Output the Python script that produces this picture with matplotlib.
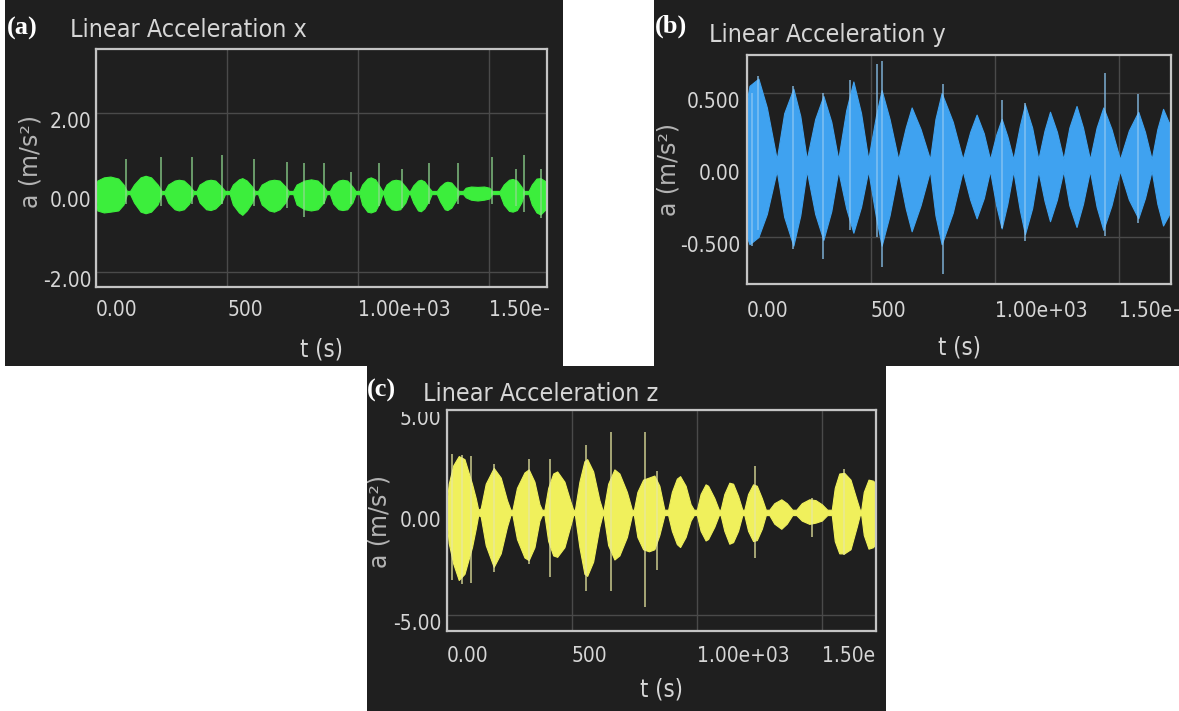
import matplotlib
matplotlib.use("Agg")
import matplotlib.pyplot as plt
from matplotlib.patches import Rectangle
from matplotlib.transforms import ScaledTranslation, Bbox, TransformedBbox

# ---------------- data ----------------
# panel (a): linear acceleration x  (envelope of the green trace, m/s^2)
a_t = [0, 5, 30, 55, 85, 105, 118,
       130, 145, 170, 189, 210, 235, 250,
       262, 275, 300, 316, 335, 355, 372,
       384, 395, 420, 437, 455, 478, 492,
       510, 522, 545, 558, 575, 595, 606,
       618, 632, 660, 679, 700, 722, 735,
       752, 765, 795, 820, 845, 868, 880,
       892, 905, 925, 940, 958, 978, 990,
       1005, 1015, 1035, 1048, 1065, 1082, 1092,
       1096, 1108, 1128, 1143, 1160, 1180, 1192,
       1198, 1210, 1228, 1239, 1252, 1270, 1280,
       1300, 1312, 1330, 1340, 1355, 1372, 1384,
       1400, 1410, 1430, 1455, 1480, 1500, 1510,
       1540, 1555, 1575, 1589, 1605, 1622, 1632,
       1650, 1662, 1680, 1695, 1710, 1720]
a_hi = [0.10, 0.30, 0.38, 0.40, 0.35, 0.20, 0.04,
        0.04, 0.20, 0.38, 0.42, 0.38, 0.20, 0.04,
        0.04, 0.20, 0.30, 0.32, 0.30, 0.18, 0.04,
        0.04, 0.20, 0.30, 0.32, 0.30, 0.15, 0.04,
        0.04, 0.20, 0.33, 0.36, 0.30, 0.15, 0.04,
        0.04, 0.20, 0.30, 0.32, 0.30, 0.15, 0.04,
        0.04, 0.20, 0.30, 0.33, 0.30, 0.15, 0.04,
        0.04, 0.20, 0.30, 0.32, 0.30, 0.15, 0.04,
        0.04, 0.20, 0.35, 0.38, 0.33, 0.15, 0.04,
        0.04, 0.20, 0.30, 0.32, 0.30, 0.15, 0.04,
        0.04, 0.18, 0.30, 0.32, 0.28, 0.12, 0.04,
        0.04, 0.15, 0.25, 0.27, 0.25, 0.12, 0.04,
        0.04, 0.12, 0.15, 0.14, 0.15, 0.12, 0.04,
        0.04, 0.20, 0.32, 0.34, 0.30, 0.15, 0.04,
        0.04, 0.20, 0.35, 0.36, 0.30, 0.25]
a_lo = [-0.10, -0.45, -0.50, -0.48, -0.45, -0.30, -0.04,
        -0.04, -0.25, -0.48, -0.52, -0.48, -0.30, -0.04,
        -0.04, -0.25, -0.42, -0.45, -0.42, -0.28, -0.04,
        -0.04, -0.25, -0.42, -0.44, -0.40, -0.25, -0.04,
        -0.04, -0.30, -0.50, -0.56, -0.45, -0.25, -0.04,
        -0.04, -0.30, -0.45, -0.48, -0.42, -0.25, -0.04,
        -0.04, -0.30, -0.42, -0.45, -0.42, -0.25, -0.04,
        -0.04, -0.28, -0.42, -0.44, -0.42, -0.25, -0.04,
        -0.04, -0.30, -0.48, -0.50, -0.46, -0.25, -0.04,
        -0.04, -0.28, -0.42, -0.44, -0.42, -0.25, -0.04,
        -0.04, -0.25, -0.45, -0.47, -0.40, -0.20, -0.04,
        -0.04, -0.22, -0.42, -0.44, -0.38, -0.20, -0.04,
        -0.04, -0.12, -0.18, -0.20, -0.18, -0.15, -0.04,
        -0.04, -0.30, -0.46, -0.48, -0.44, -0.25, -0.04,
        -0.04, -0.30, -0.50, -0.55, -0.45, -0.40]
a_spk_t = [113, 246, 367, 481, 602, 730, 794, 870, 971, 1079, 1168, 1270, 1379, 1512, 1601, 1633, 1697]
a_spk_hi = [0.85, 0.89, 0.89, 0.94, 0.85, 0.77, 0.73, 0.73, 0.52, 0.73, 0.60, 0.73, 0.73, 0.89, 0.60, 0.94, 0.60]
a_spk_lo = [-0.30, -0.35, -0.30, -0.30, -0.35, -0.40, -0.62, -0.30, -0.30, -0.35, -0.40, -0.30, -0.30, -0.30, -0.35, -0.50, -0.65]

# panel (b): linear acceleration y (envelope of the blue trace, m/s^2)
b_t = [0, 10, 46, 80, 120, 150, 187, 215, 241, 275, 308, 340, 368, 400, 429, 460,
       489, 520, 543, 575, 610, 640, 664, 700, 738, 760, 785, 830, 870, 900, 926, 955,
       980, 1005, 1027, 1050, 1074, 1100, 1121, 1150, 1175, 1200, 1222, 1250, 1276, 1300,
       1329, 1355, 1383, 1410, 1437, 1470, 1504, 1540, 1578, 1605, 1632, 1655, 1678, 1700, 1710]
b_hi = [0.45, 0.55, 0.60, 0.40, 0.04, 0.36, 0.53, 0.34, 0.04, 0.32, 0.48, 0.30, 0.04, 0.38, 0.58, 0.36,
        0.04, 0.34, 0.52, 0.32, 0.04, 0.26, 0.40, 0.25, 0.04, 0.32, 0.50, 0.30, 0.04, 0.23, 0.35, 0.22,
        0.04, 0.21, 0.32, 0.20, 0.04, 0.27, 0.42, 0.26, 0.04, 0.24, 0.37, 0.23, 0.04, 0.26,
        0.41, 0.26, 0.04, 0.26, 0.40, 0.25, 0.04, 0.24, 0.37, 0.23, 0.04, 0.25, 0.39, 0.30, 0.28]
b_lo = [-0.50, -0.55, -0.50, -0.34, -0.04, -0.36, -0.56, -0.35, -0.04, -0.34, -0.52, -0.32, -0.04, -0.30, -0.47, -0.29,
        -0.04, -0.36, -0.56, -0.35, -0.04, -0.30, -0.46, -0.28, -0.04, -0.35, -0.55, -0.33, -0.04, -0.24, -0.37, -0.23,
        -0.04, -0.28, -0.44, -0.27, -0.04, -0.31, -0.48, -0.30, -0.04, -0.25, -0.39, -0.24, -0.04, -0.28,
        -0.43, -0.27, -0.04, -0.29, -0.45, -0.28, -0.04, -0.24, -0.37, -0.23, -0.04, -0.27, -0.42, -0.35, -0.30]
b_spk_t = [20, 46, 187, 308, 415, 524, 543, 790, 1027, 1121, 1444, 1578]
b_spk_hi = [0.50, 0.62, 0.55, 0.50, 0.59, 0.70, 0.72, 0.56, 0.45, 0.43, 0.64, 0.49]
b_spk_lo = [-0.56, -0.45, -0.58, -0.65, -0.45, -0.50, -0.71, -0.76, -0.44, -0.53, -0.49, -0.40]

# panel (c): linear acceleration z (envelope of the yellow trace, m/s^2)
c_t = [0, 7, 25, 47, 70, 100, 115, 125,
       135, 155, 187, 215, 240, 254,
       262, 280, 310, 327, 350, 370, 380,
       390, 405, 425, 441, 470, 495, 505,
       512, 530, 550, 561, 585, 610, 622,
       627, 645, 670, 690, 720, 740,
       748, 762, 785, 808, 830, 850, 870,
       885, 900, 920, 933, 955, 975, 988,
       1000, 1015, 1035, 1045, 1070, 1088,
       1095, 1110, 1130, 1145, 1165, 1182,
       1190, 1205, 1225, 1240, 1260, 1276,
       1290, 1310, 1338, 1360, 1382,
       1398, 1420, 1450, 1475, 1500, 1522,
       1540, 1552, 1570, 1590, 1615, 1640, 1652,
       1658, 1668, 1687, 1705, 1717]
c_hi = [0.6, 1.4, 2.3, 2.75, 2.6, 1.4, 0.7, 0.13,
        0.2, 1.4, 2.17, 1.7, 0.6, 0.13,
        0.13, 1.2, 1.95, 2.1, 1.5, 0.4, 0.13,
        0.13, 1.2, 1.9, 2.0, 1.5, 0.5, 0.13,
        0.13, 1.5, 2.5, 2.6, 2.0, 0.6, 0.13,
        0.13, 1.4, 2.1, 1.9, 1.0, 0.13,
        0.13, 1.0, 1.6, 1.7, 1.8, 1.3, 0.13,
        0.13, 1.0, 1.65, 1.77, 1.3, 0.4, 0.13,
        0.13, 0.9, 1.37, 1.3, 0.7, 0.13,
        0.13, 0.9, 1.45, 1.4, 0.8, 0.13,
        0.13, 0.9, 1.37, 1.3, 0.7, 0.13,
        0.13, 0.45, 0.64, 0.45, 0.13,
        0.13, 0.45, 0.64, 0.6, 0.4, 0.13,
        0.13, 1.2, 1.9, 1.93, 1.6, 0.6, 0.13,
        0.13, 1.0, 1.6, 1.55, 1.4]
c_lo = [-0.6, -1.5, -2.5, -3.3, -3.0, -1.7, -0.8, -0.13,
        -0.2, -1.6, -2.66, -2.0, -0.7, -0.13,
        -0.13, -1.3, -2.2, -2.33, -1.7, -0.4, -0.13,
        -0.13, -1.4, -2.1, -2.17, -1.7, -0.6, -0.13,
        -0.13, -1.7, -3.0, -3.1, -2.4, -0.7, -0.13,
        -0.13, -1.6, -2.3, -2.1, -1.2, -0.13,
        -0.13, -1.2, -1.8, -1.9, -1.8, -1.1, -0.13,
        -0.13, -0.9, -1.55, -1.69, -1.2, -0.4, -0.13,
        -0.13, -0.9, -1.37, -1.3, -0.7, -0.13,
        -0.13, -0.9, -1.53, -1.45, -0.9, -0.13,
        -0.13, -0.9, -1.4, -1.35, -0.8, -0.13,
        -0.13, -0.55, -0.8, -0.55, -0.13,
        -0.13, -0.4, -0.56, -0.5, -0.4, -0.13,
        -0.13, -1.4, -2.0, -2.0, -1.8, -0.7, -0.13,
        -0.13, -1.1, -1.77, -1.7, -1.5]
c_spk_t = [20, 60, 95, 187, 327, 414, 556, 655, 794, 840, 1233, 1460, 1587]
c_spk_hi = [2.85, 2.80, 2.75, 2.35, 2.60, 2.60, 3.30, 3.95, 3.95, 2.00, 2.25, 0.70, 2.10]
c_spk_lo = [-3.30, -3.50, -3.46, -2.90, -2.50, -3.14, -3.85, -3.85, -4.60, -2.80, -2.25, -1.20, -2.10]

# tick values / labels
x_ticks = [0, 500, 1000, 1500]
x_ticklabels = ["0.00", "500", "1.00e+03", "1.50e+03"]
a_yticks = [-2, 0, 2]
a_yticklabels = ["-2.00", "0.00", "2.00"]
b_yticks = [-0.5, 0, 0.5]
b_yticklabels = ["-0.500", "0.00", "0.500"]
c_yticks = [-5, 0, 5]
c_yticklabels = ["-5.00", "0.00", "5.00"]
titles = ["Linear Acceleration x", "Linear Acceleration y", "Linear Acceleration z"]
letters = ["(a)", "(b)", "(c)"]
xlabel = "t (s)"
ylabel = "a (m/s²)"

# ---------------- styling ----------------
W, H = 1179, 711
BG = "#1f1f1f"
FRAME = "#c4c4c4"
GRID = "#4a4a4a"
TXT = "#d6d6d6"
YLAB = "#b4b4b4"
COND = ["DejaVu Sans"]

fig = plt.figure(figsize=(W / 100, H / 100), dpi=100)
fig.patch.set_facecolor("white")


def fx(x):
    return x / W


def fy(y):
    return 1 - y / H


def px_rect(x0, y0, x1, y1):
    return [x0 / W, 1 - y1 / H, (x1 - x0) / W, (y1 - y0) / H]


# dark panel backgrounds
for (x0, y0, x1, y1) in [(5, 0, 563, 366), (654, 0, 1179, 366), (367, 366, 886, 711)]:
    fig.add_artist(Rectangle((fx(x0), fy(y1)), (x1 - x0) / W, (y1 - y0) / H,
                             transform=fig.transFigure, facecolor=BG,
                             edgecolor="none", zorder=0))

panels = [
    dict(box=(96, 49, 547, 287), xlim=(0, 1720), ylim=(-2.37, 3.60),
         t=a_t, hi=a_hi, lo=a_lo, st=a_spk_t, sh=a_spk_hi, sl=a_spk_lo,
         yt=a_yticks, ytl=a_yticklabels, color="#3cee3c", spk="#8fd98f",
         title=(70, 37), letter=(7, 35), ylab=(30, 162), xlab=(321, 349),
         xpad=9, ypad=3, clipx=549),
    dict(box=(747, 55, 1171, 284), xlim=(0, 1710), ylim=(-0.826, 0.764),
         t=b_t, hi=b_hi, lo=b_lo, st=b_spk_t, sh=b_spk_hi, sl=b_spk_lo,
         yt=b_yticks, ytl=b_yticklabels, color="#3fa2f0", spk="#8cc6f2",
         title=(709, 42), letter=(655, 33), ylab=(669, 170), xlab=(959, 348),
         xpad=12, ypad=5, clipx=1179),
    dict(box=(447, 410, 876, 631), xlim=(0, 1717), ylim=(-5.79, 5.0),
         t=c_t, hi=c_hi, lo=c_lo, st=c_spk_t, sh=c_spk_hi, sl=c_spk_lo,
         yt=c_yticks, ytl=c_yticklabels, color="#f0f05c", spk="#e8e8a0",
         title=(423, 401), letter=(367, 397), ylab=(380, 521), xlab=(661, 690),
         xpad=11, ypad=4, clipx=876),
]

down = ScaledTranslation(0, -5 / 72, fig.dpi_scale_trans)

for i, p in enumerate(panels):
    x0, y0, x1, y1 = p["box"]
    ax = fig.add_axes(px_rect(x0, y0, x1, y1))
    ax.set_facecolor(BG)
    ax.set_xlim(*p["xlim"])
    ax.set_ylim(*p["ylim"])
    for s in ax.spines.values():
        s.set_color(FRAME)
        s.set_linewidth(1.6)
    ax.set_axisbelow(True)
    ax.grid(True, color=GRID, linewidth=1.0)

    ax.fill_between(p["t"], p["lo"], p["hi"], color=p["color"],
                    edgecolor=p["color"], linewidth=0.8, zorder=2)
    ax.vlines(p["st"], p["sl"], p["sh"], colors=p["spk"], linewidth=1.1,
              alpha=0.85, zorder=3)

    ax.set_xticks(x_ticks, x_ticklabels)
    ax.set_yticks(p["yt"], p["ytl"])
    ax.tick_params(length=0, colors=TXT, labelsize=15)
    ax.tick_params(axis="x", pad=p["xpad"])
    ax.tick_params(axis="y", pad=p["ypad"])

    clip_x = TransformedBbox(Bbox.from_extents(0, 0, fx(p["clipx"]), 1), fig.transFigure)
    for lab in ax.get_xticklabels():
        lab.set_fontfamily(COND)
        lab.set_fontstretch("condensed")
        lab.set_ha("left")
        lab.set_clip_box(clip_x)
        lab.set_clip_on(True)
    for lab in ax.get_yticklabels():
        lab.set_fontfamily(COND)
        lab.set_fontstretch("condensed")
        lab.set_transform(lab.get_transform() + down)
    if i == 2:
        top_lab = ax.get_yticklabels()[2]
        top_lab.set_clip_box(TransformedBbox(Bbox.from_extents(0, 0, 1, fy(412)),
                                             fig.transFigure))
        top_lab.set_clip_on(True)

    ax.set_xlabel(xlabel, fontfamily=COND, fontstretch="condensed",
                  fontsize=17, color=TXT)
    ax.xaxis.label.set_va("center")
    ax.xaxis.set_label_coords((p["xlab"][0] - x0) / (x1 - x0),
                              (y1 - p["xlab"][1]) / (y1 - y0))
    ax.set_ylabel(ylabel, fontfamily="DejaVu Sans", fontsize=17, color=YLAB)
    ax.yaxis.label.set_rotation_mode("default")
    ax.yaxis.label.set_va("center")
    ax.yaxis.label.set_ha("center")
    ax.yaxis.set_label_coords((p["ylab"][0] - x0) / (x1 - x0),
                              (y1 - p["ylab"][1]) / (y1 - y0))

    fig.text(fx(p["title"][0]), fy(p["title"][1]), titles[i], fontfamily=COND,
             fontstretch="condensed", fontsize=18, color=TXT,
             ha="left", va="baseline")
    fig.text(fx(p["letter"][0]), fy(p["letter"][1]), letters[i],
             fontfamily="Liberation Serif", fontweight="bold", fontsize=19,
             color="white", ha="left", va="baseline")

fig.savefig("out.png", dpi=100, facecolor="white")
